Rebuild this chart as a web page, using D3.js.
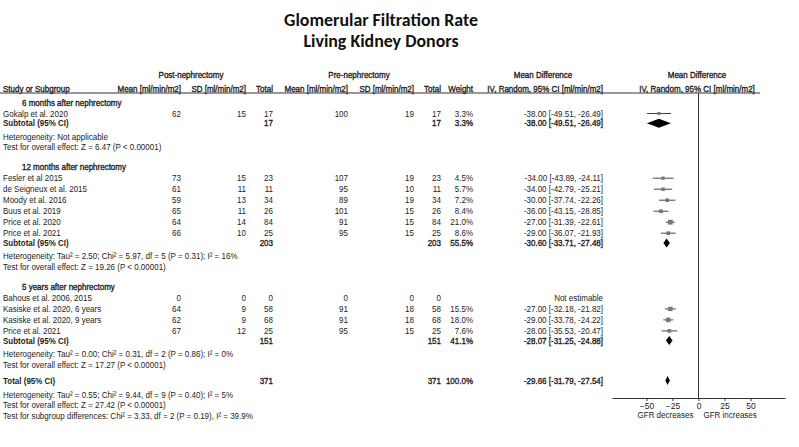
<!DOCTYPE html>
<html><head><meta charset="utf-8">
<script src="https://cdn.jsdelivr.net/npm/d3@7"></script>
<style>
html,body{margin:0;padding:0;background:#fff;}
svg{display:block;}
text{font-family:"Liberation Sans",Arial,sans-serif;fill:#1c1c1c;}
</style></head><body>
<svg id="chart" width="799" height="447"></svg>
<script>
// ---------------- data ----------------
const titleLines = ["Glomerular Filtration Rate", "Living Kidney Donors"];
const groupHeaders = ["Post-nephrectomy", "Pre-nephrectomy", "Mean Difference", "Mean Difference"];
const columnHeaders = ["Study or Subgroup", "Mean [ml/min/m2]", "SD [ml/min/m2]", "Total", "Mean [ml/min/m2]", "SD [ml/min/m2]", "Total", "Weight", "IV, Random, 95% CI [ml/min/m2]", "IV, Random, 95% CI [ml/min/m2]"];
const subgroupNames = ["6 months after nephrectomy", "12 months after nephrectomy", "5 years after nephrectomy"];
const studyNames = ["Gokalp et al. 2020", "Fesler et al 2015", "de Seigneux et al. 2015", "Moody et al. 2016", "Buus et al. 2019", "Price et al. 2020", "Price et al. 2021", "Bahous et al. 2006, 2015", "Kasiske et al. 2020, 6 years", "Kasiske et al. 2020, 9 years", "Price et al. 2021"];
const studyGroup = [0, 1, 1, 1, 1, 1, 1, 2, 2, 2, 2];
const postMean = [62, 73, 61, 59, 65, 64, 66, 0, 64, 62, 67];
const postSD = [15, 15, 11, 13, 11, 14, 10, 0, 9, 9, 12];
const postTotal = [17, 23, 11, 34, 26, 84, 25, 0, 58, 68, 25];
const preMean = [100, 107, 95, 89, 101, 91, 95, 0, 91, 91, 95];
const preSD = [19, 19, 10, 19, 15, 15, 15, 0, 18, 18, 15];
const preTotal = [17, 23, 11, 34, 26, 84, 25, 0, 58, 68, 25];
const studyWeight = [3.3, 4.5, 5.7, 7.2, 8.4, 21.0, 8.6, null, 15.5, 18.0, 7.6];
const studyMD = [-38.00, -34.00, -34.00, -30.00, -36.00, -27.00, -29.00, null, -27.00, -29.00, -28.00];
const studyLow = [-49.51, -43.89, -42.79, -37.74, -43.15, -31.39, -36.07, null, -32.18, -33.78, -35.53];
const studyHigh = [-26.49, -24.11, -25.21, -22.26, -28.85, -22.61, -21.93, null, -21.82, -24.22, -20.47];
const subPostTotal = [17, 203, 151];
const subPreTotal = [17, 203, 151];
const subWeight = [3.3, 55.5, 41.1];
const subMD = [-38.00, -30.60, -28.07];
const subLow = [-49.51, -33.71, -31.25];
const subHigh = [-26.49, -27.48, -24.88];
const subHeterogeneity = ["Heterogeneity: Not applicable",
  "Heterogeneity: Tau\u00B2 = 2.50; Chi\u00B2 = 5.97, df = 5 (P = 0.31); I\u00B2 = 16%",
  "Heterogeneity: Tau\u00B2 = 0.00; Chi\u00B2 = 0.31, df = 2 (P = 0.86); I\u00B2 = 0%"];
const subOverall = ["Test for overall effect: Z = 6.47 (P < 0.00001)",
  "Test for overall effect: Z = 19.26 (P < 0.00001)",
  "Test for overall effect: Z = 17.27 (P < 0.00001)"];
const totalLabel = "Total (95% CI)";
const totalN = [371, 371];
const totalWeight = 100.0;
const totalEffect = [-29.66, -31.79, -27.54];
const totalNotes = ["Heterogeneity: Tau\u00B2 = 0.55; Chi\u00B2 = 9.44, df = 9 (P = 0.40); I\u00B2 = 5%",
  "Test for overall effect: Z = 27.42 (P < 0.00001)",
  "Test for subgroup differences: Chi\u00B2 = 3.33, df = 2 (P = 0.19), I\u00B2 = 39.9%"];
const axisTicks = [-50, -25, 0, 25, 50];
const axisDomain = [-83, 83];
const directionLabels = ["GFR decreases", "GFR increases"];

// ---------------- layout ----------------
const svg = d3.select("#chart");
const FS = 9, SX = 0.89;
const col = {study: 3, heading: 22, postMean: 181, postSD: 246, postTotal: 273, preMean: 348, preSD: 414, preTotal: 441, weight: 473, effect: 603};
const gap = {y0: 102.5, headToStudy: 11, study: 11, studyToSub: 9.7, subToHet: 13.2, hetToTest: 10.8, testToHead: 20, testToTotal: 16, totalToHet: 14, note: 10.6};
const x = d3.scaleLinear().domain(axisDomain).range([612, 785]);
const yRule = 93, yAxis = 398;

// build row list
const rows = [];
let y = gap.y0;
subgroupNames.forEach((g, gi) => {
  if (gi > 0) y += gap.testToHead;
  rows.push({type: "heading", gi, y});
  const idx = studyGroup.map((s, i) => s === gi ? i : -1).filter(i => i >= 0);
  idx.forEach((si, k) => { y += (k === 0 ? gap.headToStudy : gap.study); rows.push({type: "study", si, y}); });
  y += gap.studyToSub; rows.push({type: "subtotal", gi, y});
  y += gap.subToHet; rows.push({type: "note", text: subHeterogeneity[gi], y});
  y += gap.hetToTest; rows.push({type: "note", text: subOverall[gi], y});
});
y += gap.testToTotal; rows.push({type: "total", y});
totalNotes.forEach((t, i) => { y += (i === 0 ? gap.totalToHet : gap.note); rows.push({type: "note", text: t, y}); });

const f2 = v => v.toFixed(2);
const effectText = (m, l, h) => `${f2(m)} [${f2(l)}, ${f2(h)}]`;
const g = svg.append("g");

// weight: 0 normal, 1 semi (stroked), 2 bold
function txt(xp, yp, s, anchor, weight) {
  const t = g.append("text").attr("transform", `translate(${xp},${yp}) scale(${SX},1)`)
    .attr("x", 0).attr("y", 0).attr("dy", "0.35em")
    .attr("text-anchor", anchor || "start").attr("font-size", FS)
    .attr("font-weight", weight === 2 ? "bold" : "normal").text(s);
  if (weight === 1) t.style("stroke", "#1c1c1c").style("stroke-width", 0.35);
  return t;
}

// title
const titleG = svg.append("g");
titleLines.forEach((t, i) => {
  titleG.append("text").attr("x", 381).attr("y", 26 + i * 21)
    .attr("text-anchor", "middle").attr("font-weight", "bold")
    .style("font-family", "Carlito, Calibri, Lato, 'Open Sans', sans-serif")
    .attr("font-size", 18).style("fill", "#111").text(t);
});
{
  const el = titleG.select("text").node();
  const w = el.getComputedTextLength();
  titleG.selectAll("text").attr("font-size", 18 * 194 / w);
}

// headers
const gh = [[191, groupHeaders[0]], [359, groupHeaders[1]], [543, groupHeaders[2]], [697, groupHeaders[3]]];
gh.forEach(([xp, s]) => txt(xp, 75, s, "middle", 1));
txt(col.study, 89, columnHeaders[0], "start", 1);
[[col.postMean, 1], [col.postSD, 2], [col.postTotal, 3], [col.preMean, 4], [col.preSD, 5], [col.preTotal, 6], [col.weight, 7], [col.effect, 8]]
  .forEach(([xp, i]) => txt(xp, 89, columnHeaders[i], "end", 1));
txt(697, 89, columnHeaders[9], "middle", 1);
g.append("line").attr("x1", 0).attr("x2", 760).attr("y1", yRule).attr("y2", yRule)
  .attr("stroke", "#333").attr("stroke-width", 1);

// zero line + axis
const x0 = x(0);
g.append("line").attr("x1", x0).attr("x2", x0).attr("y1", yRule).attr("y2", yAxis)
  .attr("stroke", "#333").attr("stroke-width", 1);
const axis = d3.axisBottom(x).tickValues(axisTicks).tickSize(3).tickPadding(2).tickSizeOuter(0)
  .tickFormat(d3.format("d"));
const ax = svg.append("g").attr("transform", `translate(0,${yAxis})`).call(axis);
ax.select(".domain").attr("stroke", "#333");
ax.selectAll(".tick line").attr("stroke", "#333");
ax.selectAll(".tick text").attr("font-size", 8.5).attr("font-family", "'Liberation Sans', Arial, sans-serif").style("fill", "#1c1c1c");
txt(x0 - 5, 415, directionLabels[0], "end");
txt(x0 + 5, 415, directionLabels[1], "start");

// rows
const plotG = svg.append("g");
function diamond(m, l, h, yc) {
  const hh = 4.5;
  plotG.append("path")
    .attr("d", `M${x(l)},${yc} L${x(m)},${yc - hh} L${x(h)},${yc} L${x(m)},${yc + hh} Z`)
    .attr("fill", "#000");
}
rows.forEach(r => {
  if (r.type === "heading") {
    txt(col.heading, r.y, subgroupNames[r.gi], "start", 1);
  } else if (r.type === "study") {
    const i = r.si;
    txt(col.study, r.y, studyNames[i]);
    txt(col.postMean, r.y, postMean[i], "end");
    txt(col.postSD, r.y, postSD[i], "end");
    txt(col.postTotal, r.y, postTotal[i], "end");
    txt(col.preMean, r.y, preMean[i], "end");
    txt(col.preSD, r.y, preSD[i], "end");
    txt(col.preTotal, r.y, preTotal[i], "end");
    if (studyWeight[i] != null) {
      txt(col.weight, r.y, studyWeight[i].toFixed(1) + "%", "end");
      txt(col.effect, r.y, effectText(studyMD[i], studyLow[i], studyHigh[i]), "end");
      plotG.append("line").attr("x1", x(studyLow[i])).attr("x2", x(studyHigh[i]))
        .attr("y1", r.y).attr("y2", r.y).attr("stroke", "#444").attr("stroke-width", 1);
      const s = 2 + Math.sqrt(studyWeight[i]) * 0.6;
      plotG.append("rect").attr("x", x(studyMD[i]) - s / 2).attr("y", r.y - s / 2)
        .attr("width", s).attr("height", s).attr("fill", "#777");
    } else {
      txt(col.effect, r.y, "Not estimable", "end");
    }
  } else if (r.type === "subtotal") {
    const i = r.gi;
    txt(col.study, r.y, "Subtotal (95% CI)", "start", 2);
    txt(col.postTotal, r.y, subPostTotal[i], "end", 1);
    txt(col.preTotal, r.y, subPreTotal[i], "end", 1);
    txt(col.weight, r.y, subWeight[i].toFixed(1) + "%", "end", 1);
    txt(col.effect, r.y, effectText(subMD[i], subLow[i], subHigh[i]), "end", 1);
    diamond(subMD[i], subLow[i], subHigh[i], r.y);
  } else if (r.type === "total") {
    txt(col.study, r.y, totalLabel, "start", 2);
    txt(col.postTotal, r.y, totalN[0], "end", 1);
    txt(col.preTotal, r.y, totalN[1], "end", 1);
    txt(col.weight, r.y, totalWeight.toFixed(1) + "%", "end", 1);
    txt(col.effect, r.y, effectText(totalEffect[0], totalEffect[1], totalEffect[2]), "end", 1);
    diamond(totalEffect[0], totalEffect[1], totalEffect[2], r.y);
  } else {
    txt(col.study, r.y, r.text);
  }
});
</script>
</body></html>
